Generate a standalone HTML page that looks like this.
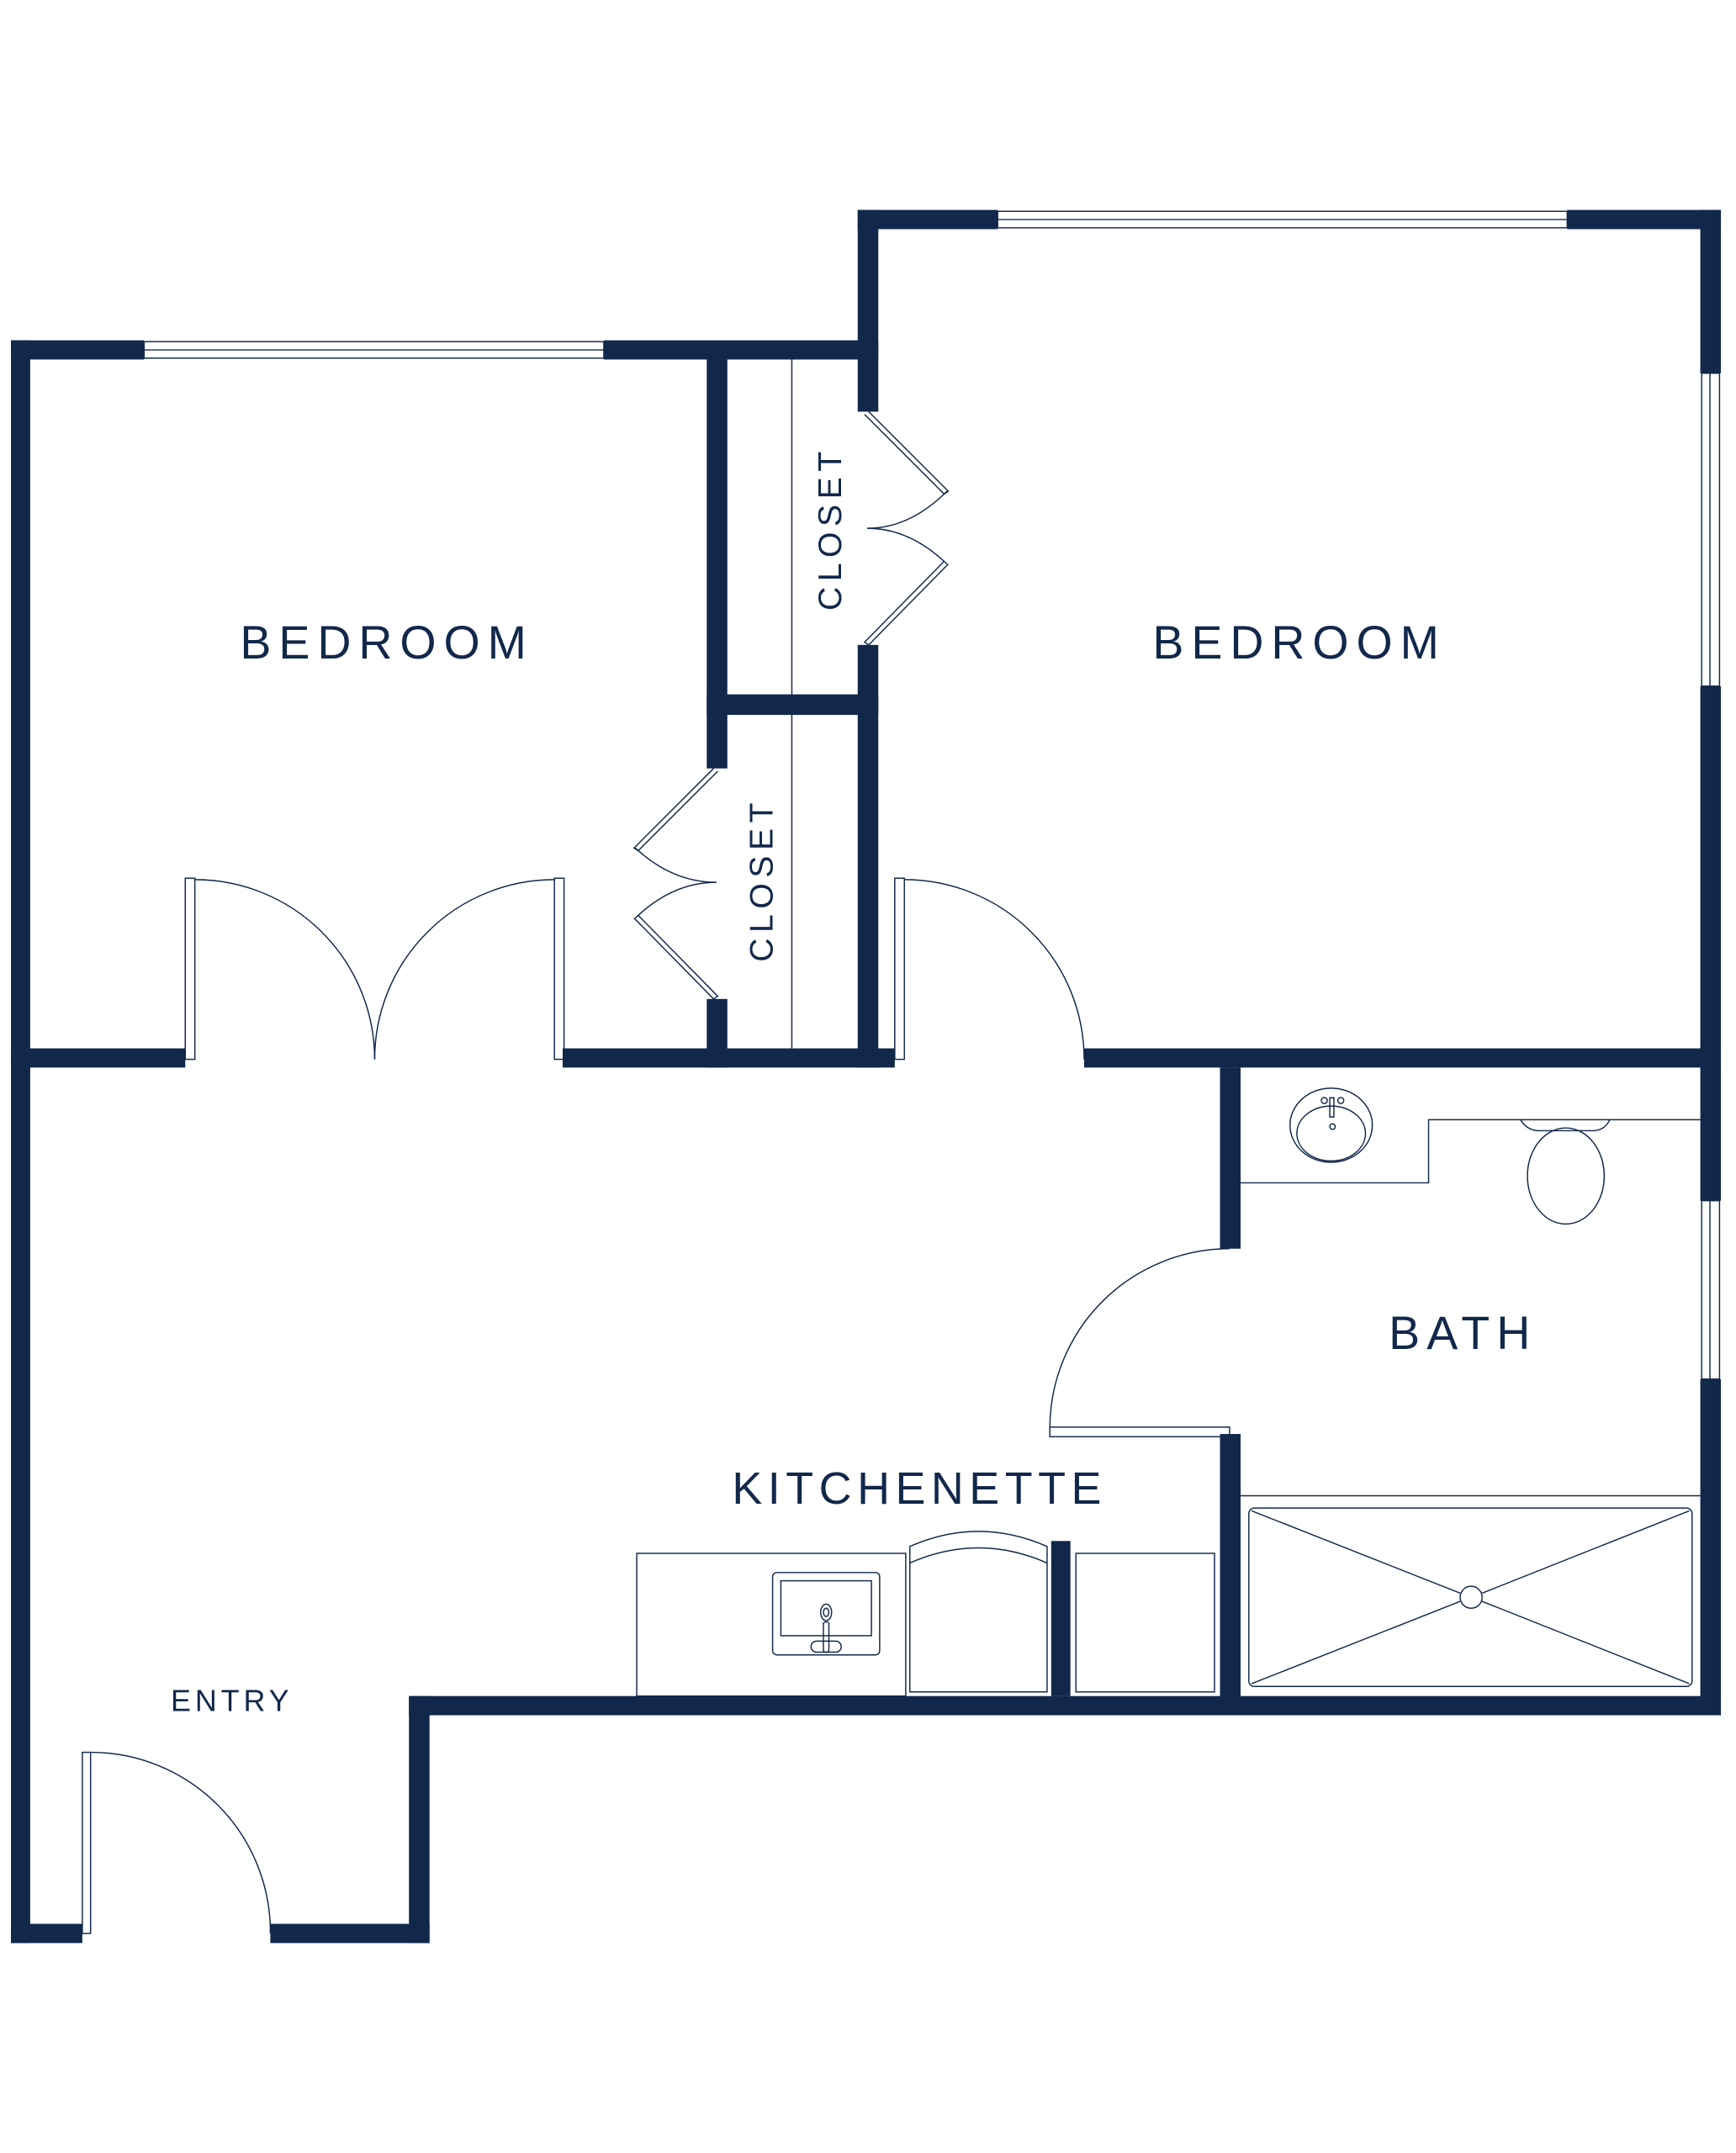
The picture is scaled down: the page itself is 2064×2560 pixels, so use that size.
<!DOCTYPE html>
<html><head><meta charset="utf-8"><style>html,body{margin:0;padding:0;background:#fff}svg{display:block}</style></head>
<body>
<svg width="2064" height="2560" viewBox="0 0 1265 1569" xmlns="http://www.w3.org/2000/svg">
<g fill="#12284b">
<rect x="8" y="248" width="97" height="14"/>
<rect x="440" y="248" width="200" height="14"/>
<rect x="8" y="248" width="14" height="1168"/>
<rect x="625" y="153" width="102" height="14"/>
<rect x="1142" y="153" width="112" height="14"/>
<rect x="625" y="153" width="15" height="147"/>
<rect x="625" y="470" width="15" height="308"/>
<rect x="1239" y="153" width="15" height="119"/>
<rect x="1239" y="500" width="15" height="375"/>
<rect x="1239" y="1005" width="15" height="245"/>
<rect x="515" y="255" width="15" height="305"/>
<rect x="515" y="728" width="15" height="50"/>
<rect x="515" y="506" width="125" height="15"/>
<rect x="8" y="764" width="127" height="14"/>
<rect x="410" y="764" width="242" height="14"/>
<rect x="790" y="764" width="464" height="14"/>
<rect x="889" y="778" width="15" height="132"/>
<rect x="889" y="1045" width="15" height="205"/>
<rect x="298" y="1236" width="956" height="14"/>
<rect x="298" y="1236" width="15" height="180"/>
<rect x="8" y="1402" width="52" height="14"/>
<rect x="197" y="1402" width="116" height="14"/>
<rect x="766" y="1123" width="14" height="113"/>
</g>
<g fill="none" stroke="#12284b" stroke-width="0.9">
<rect x="105" y="249" width="335" height="12"/><line x1="105" y1="255" x2="440" y2="255"/>
<rect x="727" y="154" width="415" height="12"/><line x1="727" y1="160" x2="1142" y2="160"/>
<rect x="1240" y="272" width="13" height="228"/><line x1="1246" y1="272" x2="1246" y2="500"/>
<rect x="1240" y="875" width="13" height="130"/><line x1="1246" y1="875" x2="1246" y2="1005"/>
<line x1="577" y1="262" x2="577" y2="764"/>
<rect x="135" y="640" width="7" height="132"/>
<path d="M142 641 A131 131 0 0 1 273 772"/>
<rect x="404" y="640" width="7" height="132"/>
<path d="M404 641 A131 131 0 0 0 273 772"/>
<rect x="652" y="640" width="7" height="132"/>
<path d="M659 641 A131 131 0 0 1 790 772"/>
<rect x="765" y="1040" width="131" height="7"/>
<path d="M765 1040 A131 131 0 0 1 896 910"/>
<rect x="60" y="1277" width="6" height="132"/>
<path d="M66 1277 A131 131 0 0 1 197 1409"/>
<path d="M520 560 L462 618 L465 620 L523 562"/>
<path d="M463 618 Q490 643 522 643"/>
<path d="M522 643 Q490 643 463 669"/>
<path d="M462 669 L520 728 L523 726 L465 667"/>
<path d="M633 300 L691 358 L688 360 L630 302"/>
<path d="M690 358 Q663 385 632 385"/>
<path d="M632 385 Q663 385 690 411"/>
<path d="M691 411 L633 470 L630 468 L688 409"/>
<path d="M904 862 H1041 V816 H1239"/>
<ellipse cx="970" cy="820" rx="30" ry="27"/>
<ellipse cx="970" cy="826" rx="25" ry="20"/>
<rect x="969" y="800" width="3" height="14"/>
<circle cx="965" cy="802" r="2.2"/><circle cx="977" cy="802" r="2.2"/><circle cx="971" cy="821" r="2"/>
<path d="M1108 816 Q1112 823 1120 824 H1162 Q1170 823 1173 816"/>
<ellipse cx="1141" cy="857" rx="28" ry="35"/>
<line x1="904" y1="1090" x2="1239" y2="1090"/>
<rect x="910" y="1099" width="323" height="130" rx="4"/>
<line x1="912" y1="1101" x2="1064" y2="1161"/><line x1="1080" y1="1161" x2="1231" y2="1101"/>
<line x1="912" y1="1227" x2="1064" y2="1167"/><line x1="1080" y1="1167" x2="1231" y2="1227"/>
<circle cx="1072" cy="1164" r="8"/>
<rect x="464" y="1132" width="196" height="104"/>
<rect x="563" y="1146" width="78" height="60" rx="3"/>
<rect x="569" y="1152" width="66" height="40"/>
<ellipse cx="602" cy="1175" rx="4" ry="6"/><ellipse cx="602" cy="1175" rx="2" ry="3"/>
<rect x="600" y="1182" width="4" height="22" rx="1.5"/>
<rect x="591" y="1196" width="22" height="8" rx="4"/>
<path d="M663 1233 V1127 Q713 1105 763 1127 V1233 Z"/>
<path d="M663 1139 Q713 1117 763 1139"/>
<rect x="784" y="1132" width="101" height="101"/>
</g>
<g fill="#12284b" font-family="Liberation Sans, sans-serif" text-anchor="middle">
<text x="282" y="480" font-size="34" letter-spacing="5.5">BEDROOM</text>
<text x="947" y="480" font-size="34" letter-spacing="5.5">BEDROOM</text>
<text x="1066" y="983" font-size="34" letter-spacing="5">BATH</text>
<text x="670" y="1096" font-size="33" letter-spacing="4">KITCHENETTE</text>
<text x="169" y="1247" font-size="22" letter-spacing="3">ENTRY</text>
<text transform="translate(613,385) rotate(-90)" font-size="24" letter-spacing="4">CLOSET</text>
<text transform="translate(563,641) rotate(-90)" font-size="24" letter-spacing="4">CLOSET</text>
</g>
</svg>
</body></html>
